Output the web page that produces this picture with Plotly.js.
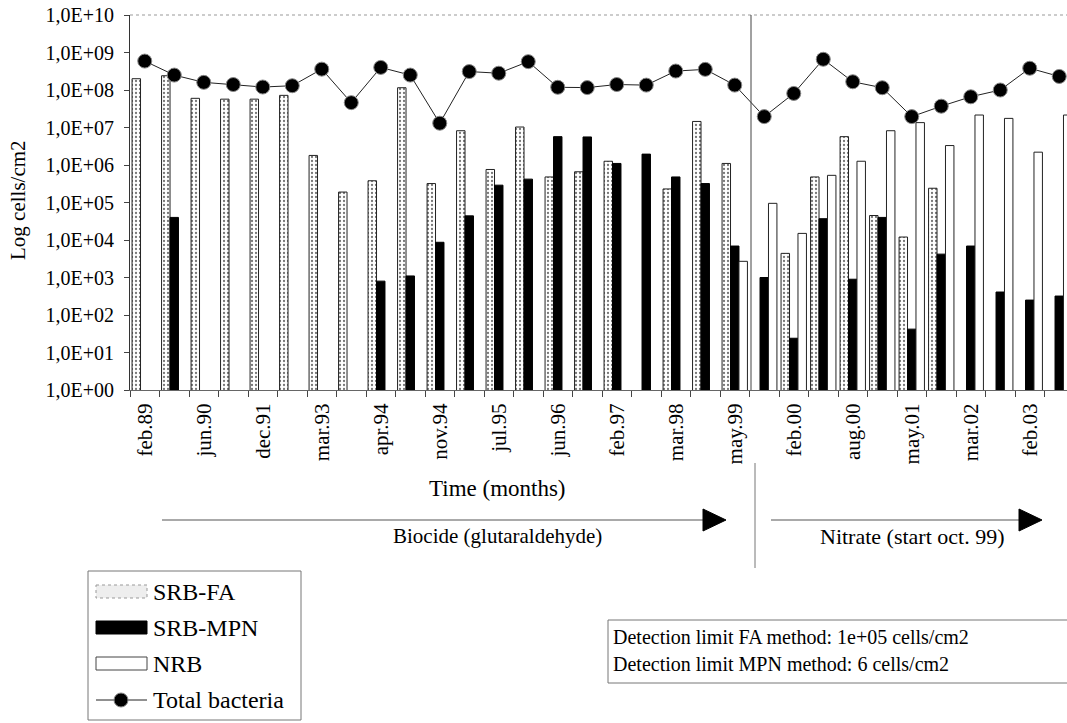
<!DOCTYPE html>
<html>
<head>
<meta charset="utf-8">
<script src="https://cdn.plot.ly/plotly-3.0.1.min.js"></script>
<style>html,body{margin:0;padding:0;background:#fff;}#chart{width:1067px;height:723px;}</style>
</head>
<body>
<div id="chart"></div>
<script>
// Sample sequence (32 sampling occasions); labelled every second sample
const sampleNo = [1,2,3,4,5,6,7,8,9,10,11,12,13,14,15,16,17,18,19,20,21,22,23,24,25,26,27,28,29,30,31,32];
const tickSamples = [1,3,5,7,9,11,13,15,17,19,21,23,25,27,29,31];
const tickLabels = ['feb.89','jun.90','dec.91','mar.93','apr.94','nov.94','jul.95','jun.96','feb.97','mar.98','may.99','feb.00','aug.00','may.01','mar.02','feb.03'];

// cells/cm2 (null = not measured / below detection)
const srbFA = [2.0e8,2.4e8,6e7,5.7e7,5.7e7,7.2e7,1.8e6,1.9e5,3.8e5,1.15e8,3.2e5,8.2e6,7.6e5,1.03e7,4.8e5,6.6e5,1.26e6,null,2.3e5,1.45e7,1.1e6,null,4.4e3,4.8e5,5.7e6,4.5e4,1.2e4,2.4e5,null,null,null,null];
const srbMPN = [null,4e4,null,null,null,null,null,null,8e2,1.1e3,8.7e3,4.4e4,2.9e5,4.2e5,5.7e6,5.6e6,1.1e6,1.95e6,4.8e5,3.2e5,6.9e3,1.0e3,24,3.7e4,9e2,4e4,42,4.2e3,6.9e3,4.1e2,2.5e2,3.2e2];
const nrb = [null,null,null,null,null,null,null,null,null,null,null,null,null,null,null,null,null,null,null,null,2.7e3,9.5e4,1.5e4,5.3e5,1.26e6,8.2e6,1.35e7,3.3e6,2.15e7,1.75e7,2.2e6,2.15e7];
const totalBacteria = [5.9e8,2.5e8,1.6e8,1.4e8,1.2e8,1.3e8,3.6e8,4.6e7,4e8,2.5e8,1.3e7,3.1e8,2.8e8,5.7e8,1.18e8,1.16e8,1.4e8,1.35e8,3.2e8,3.55e8,1.35e8,1.95e7,8.1e7,6.6e8,1.66e8,1.15e8,1.95e7,3.7e7,6.6e7,1.0e8,3.8e8,2.3e8];

const yTickVals = [1,10,100,1e3,1e4,1e5,1e6,1e7,1e8,1e9,1e10];
const yTickText = ['1,0E+00','1,0E+01','1,0E+02','1,0E+03','1,0E+04','1,0E+05','1,0E+06','1,0E+07','1,0E+08','1,0E+09','1,0E+10'];

// pixel -> paper helpers (plot area 130..1067 x 15..390)
const L = 130, R = 1067, T = 15, B = 390;
const X = px => (px - L) / (R - L);
const Y = py => (B - py) / (B - T);
const serif = 'Liberation Serif, Times New Roman, serif';

const traces = [
  {type:'bar', name:'SRB-FA', x:sampleNo, y:srbFA,
   marker:{color:'#ffffff', pattern:{shape:'.', fgcolor:'#777', bgcolor:'#ffffff', size:4, solidity:0.25}, line:{color:'#222', width:1}}},
  {type:'bar', name:'SRB-MPN', x:sampleNo, y:srbMPN,
   marker:{color:'#000000', line:{color:'#000', width:1}}},
  {type:'bar', name:'NRB', x:sampleNo, y:nrb,
   marker:{color:'#ffffff', line:{color:'#222', width:1}}},
  {type:'scatter', mode:'lines+markers', name:'Total bacteria', x:sampleNo, y:totalBacteria,
   line:{color:'#222', width:1}, marker:{color:'#000', size:14, line:{color:'#888', width:1}}}
];

function rect(x0,y0,x1,y1,fill,lineColor,dash){
  return {type:'rect', xref:'paper', yref:'paper', x0:X(x0), x1:X(x1), y0:Y(y0), y1:Y(y1),
          fillcolor:fill, line:{color:lineColor, width:1, dash:dash||'solid'}};
}
function seg(x0,y0,x1,y1,color,dash,w){
  return {type:'line', xref:'paper', yref:'paper', x0:X(x0), x1:X(x1), y0:Y(y0), y1:Y(y1),
          line:{color:color, width:w||1, dash:dash||'solid'}};
}
function tri(xa,yc,xb,h){
  return {type:'path', xref:'paper', yref:'paper',
    path:'M'+X(xa)+','+Y(yc-h)+' L'+X(xb)+','+Y(yc)+' L'+X(xa)+','+Y(yc+h)+' Z',
    fillcolor:'#000', line:{color:'#000', width:1}};
}
function txt(px,py,text,size,anchor){
  return {xref:'paper', yref:'paper', x:X(px), y:Y(py), text:text, showarrow:false,
          xanchor:anchor||'center', yanchor:'middle', font:{family:serif, size:size, color:'#000'}};
}

const shapes = [
  seg(130,15,1067,15,'#999','dot'),
  seg(751,15,751,390,'#444'),
  seg(755,463,755,568,'#777'),
  seg(162,520,705,520,'#555'), tri(703,520,726,11),
  seg(771,520,1020,520,'#555'), tri(1019,520,1042,11),
  rect(88,571,301,720,'rgba(0,0,0,0)','#777'),
  rect(96,585,147,598,'#eeeeee','#999','dot'),
  rect(96,621,147,634,'#000','#000'),
  rect(96,657,147,670,'#fff','#444'),
  seg(96,700,147,700,'#222'),
  {type:'circle', xref:'paper', yref:'paper', x0:X(114), x1:X(128), y0:Y(707), y1:Y(693), fillcolor:'#000', line:{color:'#888', width:1}},
  rect(608,620,1080,683,'rgba(0,0,0,0)','#777')
];

const annotations = [
  txt(497,488,'Time (months)',23),
  txt(497,536,'Biocide (glutaraldehyde)',21),
  txt(912,536,'Nitrate (start oct. 99)',22),
  txt(151,592,'SRB-FA',24,'left'),
  txt(151,628,'SRB-MPN',24,'left'),
  txt(151,664,'NRB',24,'left'),
  txt(151,700,'Total bacteria',24,'left'),
  txt(611,637,'Detection limit FA method: 1e+05 cells/cm2',20,'left'),
  txt(611,664,'Detection limit MPN method: 6 cells/cm2',20,'left'),
  {xref:'paper', yref:'paper', x:X(18), y:Y(200), text:'Log cells/cm2', textangle:-90, showarrow:false,
   xanchor:'center', yanchor:'middle', font:{family:serif, size:21, color:'#000'}}
];

const layout = {
  width:1067, height:723,
  margin:{l:L, r:1067-R, t:T, b:723-B, pad:0},
  paper_bgcolor:'#fff', plot_bgcolor:'#fff',
  showlegend:false,
  barmode:'group', bargap:0.14, bargroupgap:0,
  font:{family:serif, color:'#000'},
  xaxis:{type:'linear', range:[0.5, 0.5 + (R-L)/29.5], tickmode:'array', tickvals:tickSamples, ticktext:tickLabels,
         tickangle:-90, ticks:'', showgrid:false, zeroline:false, showline:true, linecolor:'#666', linewidth:1,
         tickfont:{family:serif, size:21, color:'#000'}, ticklabelstandoff:4,
         minor:{tickmode:'linear', tick0:0.5, dtick:1, ticks:'outside', ticklen:6, tickcolor:'#444', showgrid:false}},
  yaxis:{type:'log', range:[0,10], tickmode:'array', tickvals:yTickVals, ticktext:yTickText,
         ticks:'outside', ticklen:5, tickcolor:'#444', showgrid:false, zeroline:false, showline:true, linecolor:'#333', linewidth:1,
         tickfont:{family:serif, size:20, color:'#000'}, ticklabelstandoff:6},
  shapes:shapes,
  annotations:annotations
};

Plotly.newPlot('chart', traces, layout, {displayModeBar:false, staticPlot:true});
</script>
</body>
</html>
